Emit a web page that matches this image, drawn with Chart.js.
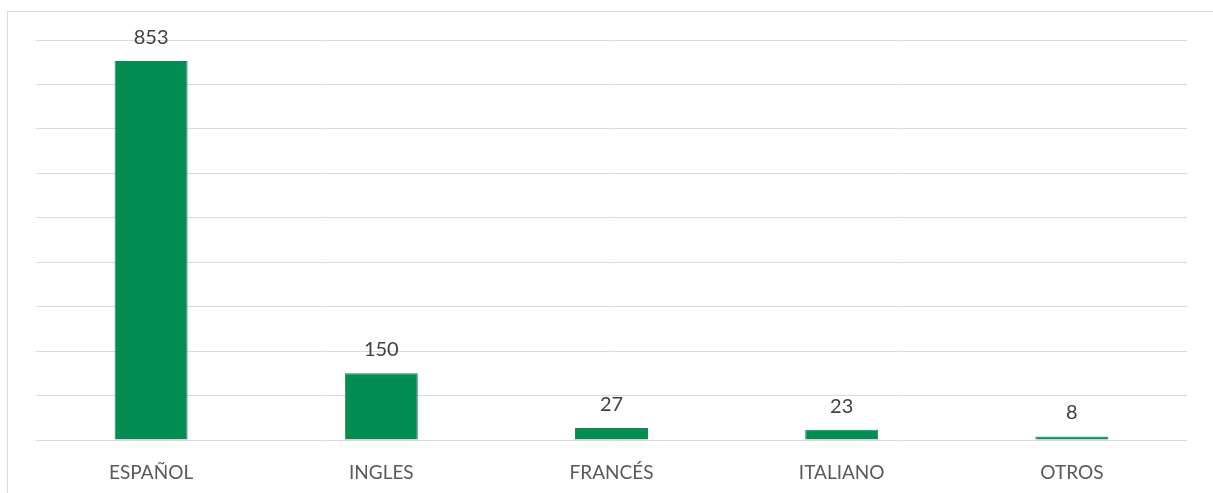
<!DOCTYPE html>
<html><head><meta charset="utf-8">
<script src="https://cdn.jsdelivr.net/npm/chart.js@4"></script>
<style>
html,body{margin:0;padding:0;background:#fff;overflow:hidden}
#frame{position:absolute;left:7px;top:11px;width:1300px;height:600px;border:1px solid #d9d9d9;box-sizing:border-box}
#wrap{position:absolute;left:0;top:0;width:1213px;height:493px}
</style></head>
<body>
<div id="frame"></div>
<div id="wrap"><canvas id="c" width="1213" height="493"></canvas></div>
<script>
const categories = ["ESPAÑOL", "INGLES", "FRANCÉS", "ITALIANO", "OTROS"];
const values = [853, 150, 27, 23, 8];

const labelPlugin = {
  id: 'valueLabels',
  afterDatasetsDraw(chart) {
    const ctx = chart.ctx;
    const meta = chart.getDatasetMeta(0);
    const xScale = chart.scales.x;
    ctx.save();
    ctx.textAlign = 'center';
    ctx.textBaseline = 'alphabetic';
    ctx.font = '20px Lato';
    ctx.fillStyle = '#404040';
    meta.data.forEach((bar, i) => {
      ctx.fillText(String(values[i]), bar.x, bar.y - 17);
    });
    ctx.font = '19px Lato';
    ctx.fillStyle = '#595959';
    categories.forEach((c, i) => {
      ctx.fillText(c, xScale.getPixelForValue(i), chart.chartArea.bottom + 39);
    });
    ctx.restore();
  }
};

new Chart(document.getElementById('c'), {
  type: 'bar',
  data: {
    labels: categories,
    datasets: [{
      data: values,
      backgroundColor: '#028E53',
      borderColor: '#2F7A58',
      borderWidth: 1,
      categoryPercentage: 1,
      barPercentage: 0.317
    }]
  },
  options: {
    responsive: false,
    animation: false,
    events: [],
    layout: { padding: { left: 36, right: 26, top: 40, bottom: 45 } },
    plugins: { legend: { display: false }, tooltip: { enabled: false } },
    scales: {
      x: {
        grid: { display: false },
        border: { display: false },
        ticks: { display: false }
      },
      y: {
        min: 0, max: 900,
        ticks: { display: false, stepSize: 100 },
        border: { display: false },
        grid: { color: '#d9d9d9', lineWidth: 1, drawTicks: false }
      }
    }
  },
  plugins: [labelPlugin]
});
</script>
</body></html>
